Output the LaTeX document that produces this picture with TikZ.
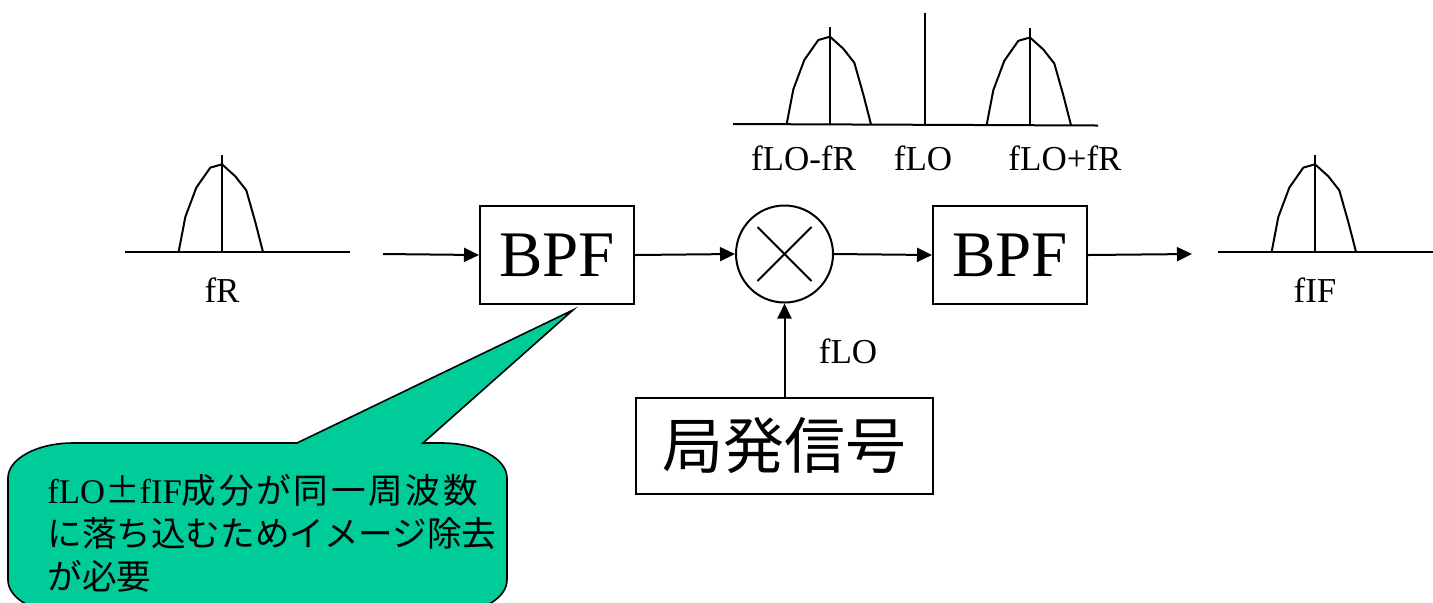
\documentclass[tikz,border=0pt]{standalone}
\usepackage{fontspec}
\setmainfont{Liberation Serif}
\newfontfamily\cjk{Noto Sans CJK JP}
\usetikzlibrary{arrows.meta}
\definecolor{callgreen}{RGB}{0,204,153}
\tikzset{
  lw/.style={line width=1pt},
  arr/.style={lw,-{Triangle[length=7.5pt,width=7pt]}},
  blockbox/.style={draw,lw,inner sep=0pt,minimum width=77pt,minimum height=49pt,font=\fontsize{32.5}{36}\selectfont},
  lbl/.style={inner sep=0pt,font=\fontsize{17.5}{21}\selectfont},
  hump/.pic={
    \draw[lw,line join=round] (-43.4,0) -- (-36.7,-35) -- (-25.7,-64.4) -- (-11.7,-84.4) -- (0,-87.7) -- (13.3,-75.7) -- (24.3,-61.7) -- (33.3,-30) -- (41,0);
    \draw[lw] (0,0) -- (0,-97);
  }
}
\begin{document}
\begin{tikzpicture}[x=0.5pt,y=-0.5pt]
\clip (0,0) rectangle (1433,602);
\path[use as bounding box] (0,0) rectangle (1433,602);
% spectrum fR
\draw[lw] (125,252) -- (350,252);
\pic at (222,252) {hump};
\node[lbl] (fr) at (222,290) {fR};
% spectrum fIF
\draw[lw] (1218,252) -- (1433,252);
\pic at (1315,252) {hump};
\node[lbl] (fif) at (1315,290) {fIF};
% top spectrum
\draw[lw] (733,124) -- (1098,125.5);
\pic at (830,124.4) {hump};
\pic at (1030,125.2) {hump};
\draw[lw] (925,13) -- (925,125);
\node[lbl] (lm) at (803.5,158) {fLO-fR};
\node[lbl] (l0) at (923,158) {fLO};
\node[lbl] (lp) at (1065,158) {fLO+fR};
% blocks
\coordinate (in) at (383,254);
\coordinate (out) at (1192,254);
\node[blockbox] (bpf1) at (557,255) {BPF};
\node[blockbox] (bpf2) at (1010,255) {BPF};
\node[draw,lw,circle,minimum size=48.5pt,inner sep=0pt] (mix) at (784.5,254) {};
\draw[lw] ([shift={(-27,-27)}]mix.center) -- ([shift={(27,27)}]mix.center);
\draw[lw] ([shift={(-27,27)}]mix.center) -- ([shift={(27,-27)}]mix.center);
\node[draw,lw,inner sep=0pt,minimum width=148.5pt,minimum height=48pt,font=\cjk\fontsize{30.5}{34}\selectfont] (lo) at (784.5,446) {局発信号};
\draw[arr] (in) -- (bpf1.west);
\draw[arr] (bpf1.east) -- (mix.west);
\draw[arr] (mix.east) -- (bpf2.west);
\draw[arr] (bpf2.east) -- (out);
\draw[arr] (lo.north) -- (mix.south);
\node[lbl] (flo) at (848,351) {fLO};
% callout
\coordinate (tip) at (573,310);
\draw[line width=0.8pt,fill=callgreen,line join=miter]
  (297,443) -- (tip) -- (423,443) -- (442,443)
  .. controls (477.9,443) and (507,458.7) .. (507,478)
  -- (507,580) .. controls (507,599.3) and (477.9,615) .. (442,615)
  -- (73,615) .. controls (37.1,615) and (8,599.3) .. (8,580)
  -- (8,478) .. controls (8,458.7) and (37.1,443) .. (73,443) -- cycle;
\node[anchor=west,align=left,inner sep=0pt,font=\cjk\fontsize{17.3}{21.5}\selectfont] (note) at (47,533)
  {{\rmfamily fLO}\makebox[1em]{±}{\rmfamily fIF}\makebox[148pt][s]{成\hfill 分\hfill が\hfill 同\hfill 一\hfill 周\hfill 波\hfill 数}\\に落ち込むためイメージ除去\\が必要};
\end{tikzpicture}
\end{document}
